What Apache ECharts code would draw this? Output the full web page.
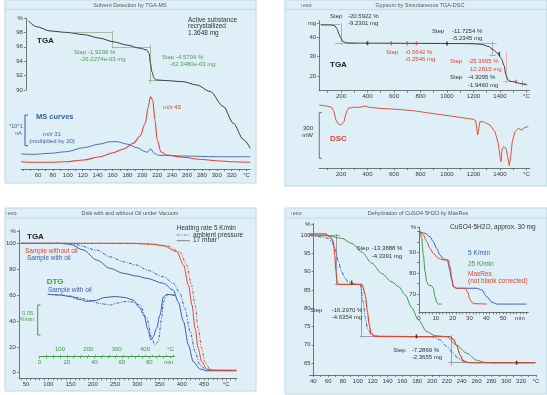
<!DOCTYPE html>
<html>
<head>
<meta charset="utf-8">
<title>Thermal analysis examples</title>
<script src="https://cdn.jsdelivr.net/npm/echarts@6.0.0/dist/echarts.min.js"></script>
<style>
html,body{margin:0;padding:0;background:#ffffff;}
#chart{width:547px;height:395px;}
</style>
</head>
<body>
<div id="chart"></div>
<script>
// ================= DATA =================
// ---- Panel 1: Solvent detection by TGA-MS ----
const p1TgaTemp = [47, 58, 76, 98, 121, 143, 161, 179, 197, 206, 209, 211, 213, 216, 219, 233, 255, 273, 291, 309, 322, 336, 345];
const p1TgaMass = [99.6, 98.8, 98.2, 98.0, 97.7, 97.2, 96.7, 96.25, 95.8, 95.55, 95.1, 93.7, 92.5, 91.6, 91.4, 91.3, 91.15, 90.7, 89.8, 87.7, 85.4, 83.1, 81.9];
const p1Mz45Temp = [37, 54, 76, 98, 121, 143, 161, 175, 188, 197, 204, 208, 211, 214, 217, 220, 225, 233, 255, 277, 300, 322, 345];
const p1Mz45Ion = [7.3, 6.7, 6.7, 7.3, 9, 12.3, 16.3, 20, 25.7, 33, 45.7, 62.3, 72.3, 69, 49, 29, 17.3, 14, 11.7, 9.7, 8.3, 7.3, 6.7];
const p1Mz31Temp = [37, 54, 76, 98, 121, 143, 157, 166, 179, 193, 204, 207, 211, 216, 222, 255, 300, 345];
const p1Mz31Ion = [15, 14.7, 15.7, 17.3, 21.3, 25, 27.3, 27.3, 25, 21.3, 17.3, 16.7, 20.3, 15.7, 13.7, 13, 12.3, 12.3];
const p1StepSegments = [
  [[107, 97.96], [159, 97.96]], [[159, 98.2], [159, 95.8]], [[159, 96.0], [211, 96.0]],
  [[211, 96.25], [211, 90.9]], [[208, 91.3], [226, 91.3]]
];
const p1TempLabels = [60, 80, 100, 120, 140, 160, 180, 200, 220, 240, 260, 280, 300, 320, 340];
const p1MassLabels = [90, 92, 94, 96, 98, 100];

// ---- Panel 2: Gypsum by simultaneous TGA-DSC ----
const p2TgaTemp = [50, 120, 150, 170, 185, 200, 215, 240, 300, 500, 800, 1100, 1200, 1260, 1310, 1350, 1385, 1410, 1430, 1445, 1460, 1475, 1510, 1560, 1605];
const p2TgaMass = [46.3, 46.3, 46.0, 44.5, 41.5, 39.4, 37.8, 37.1, 36.95, 36.9, 36.8, 36.7, 36.6, 36.3, 35.3, 33.5, 31.5, 29.0, 25.5, 20.5, 18.0, 17.3, 16.9, 16.0, 15.3];
const p2DscTemp = [36, 92, 130, 147, 162, 180, 200, 223, 238, 255, 293, 343, 381, 394, 414, 494, 620, 746, 847, 972, 1098, 1198, 1217, 1224, 1232, 1240, 1249, 1274, 1325, 1362, 1387, 1400, 1408, 1415, 1425, 1445, 1458, 1470, 1481, 1493, 1513, 1538, 1564, 1589, 1614];
const p2DscFlow = [63.3, 62.3, 61, 56.6, 48.3, 44.3, 43.3, 46.6, 55, 60, 61, 61, 62.3, 63.3, 61, 60, 59, 57.6, 55.6, 53.3, 51, 49, 47.6, 40, 33.3, 40, 46.6, 46.6, 43.3, 36.6, 25, 11.6, 6.6, 18.3, 21.6, 20, 11.6, 2.6, 11.6, 27, 36.6, 40, 38.3, 41, 41.6];
const p2StepSegments = [
  [[35, 46.6], [193, 46.6]], [[200, 47.2], [200, 36.0]], [[155, 36.85], [318, 36.85]],
  [[1150, 36.85], [1375, 36.85]], [[1345, 37.7], [1345, 30.8]], [[1320, 30.8], [1370, 30.8]],
  [[1545, 16.0], [1595, 16.0]], [[1570, 17.5], [1570, 14.5]]
];
const p2StepSegmentsRed = [[[1450, 32.5], [1450, 16.2]], [[1424, 17.1], [1530, 17.1]]];
const p2MarksDark = [[400, 36.9], [1000, 36.75], [1395, 31.4]];
const p2MarksRed = [[580, 36.88], [700, 36.85], [770, 36.82], [1520, 17.0]];
const p2TempLabels = [200, 400, 600, 800, 1000, 1200, 1400, 1600];
const p2MassLabels = [20, 30, 40, 47.2];

// ---- Panel 3: Disk with and without oil under vacuum ----
const p3WithOil17Temp = [38, 126, 149, 179, 209, 239, 269, 299, 321, 359, 381, 392, 404, 415, 426, 441, 456, 523];
const p3WithOil17Mass = [100, 100, 99.2, 94.8, 87.1, 80.7, 76.8, 74.7, 73.0, 69.1, 63.9, 54.9, 39.4, 21.4, 8.5, 2.9, 1.5, 1.5];
const p3WithOilAmbTemp = [38, 149, 164, 209, 239, 269, 299, 321, 359, 381, 396, 407, 419, 430, 441, 456, 523];
const p3WithOilAmbMass = [100, 100, 98.7, 94.8, 89.6, 85.8, 83.2, 79.4, 74.2, 69.1, 61.4, 49.8, 31.7, 16.2, 6.0, 2.1, 1.5];
const p3NoOil17Temp = [38, 284, 330, 359, 389, 404, 415, 423, 430, 437, 445, 456, 467, 523];
const p3NoOil17Mass = [100, 100, 99.4, 98.1, 93.5, 83.3, 67.8, 52.3, 34.3, 18.9, 8.5, 2.9, 1.9, 1.9];
const p3NoOilAmbTemp = [38, 290, 335, 365, 396, 411, 422, 430, 437, 445, 452, 463, 474, 523];
const p3NoOilAmbMass = [100, 100, 99.4, 98.3, 93.5, 83.3, 67.8, 52.3, 34.3, 18.9, 8.5, 2.9, 1.9, 1.9];
const p3Dtg17Temp = [57, 100, 135, 171, 195, 224, 259, 294, 329, 358, 382, 397, 411, 421, 429, 441, 453, 465, 477, 506];
const p3Dtg17Rate = [62.4, 61.7, 60.2, 57.2, 55.2, 56.2, 59.2, 60.2, 59.2, 56.7, 48.7, 40.7, 26.7, 16.7, 20, 28.4, 41.7, 59.7, 62.4, 61.2];
const p3DtgAmbTemp = [57, 100, 135, 171, 206, 241, 277, 305, 329, 358, 382, 406, 424, 435, 447, 459, 465, 477, 488, 506];
const p3DtgAmbRate = [62.4, 61.7, 60.7, 58.7, 56.2, 53.2, 51.7, 53.7, 55.2, 54.7, 51.7, 38.7, 18.7, 11.7, 15, 38.7, 54.7, 61.7, 62.2, 61.2];
const p3TempLabels = [50, 100, 150, 200, 250, 300, 350, 400, 450, 500];
const p3MassLabels = [0, 20, 40, 60, 80, 100, 109];
const p3DtgTempLabels = [100, 200, 300, 400, 490];
const p3DtgTimeLabels = [0, 20, 40, 60, 80, 94];

// ---- Panel 4: Dehydration of CuSO4·5H2O by MaxRes ----
const p4Rate5Temp = [35, 51, 60, 65, 69, 74, 78, 83, 87, 96, 103, 107, 110, 113, 118, 125, 132, 200, 210, 220, 228, 236, 245, 255, 339];
const p4Rate5Mass = [99.9, 99.5, 99.1, 98.2, 96.4, 92.7, 90, 88.2, 87.1, 86.6, 86.5, 82, 77.5, 74.5, 72.8, 72.4, 72.3, 72.2, 71.4, 69.6, 67.8, 66.2, 65.3, 65.1, 65.1];
const p4MaxResTemp = [35, 56, 62, 67, 69, 70.5, 72, 74, 87, 103, 106, 110, 113, 115.5, 118, 123, 224, 229, 233, 238, 242, 249, 339];
const p4MaxResMass = [100.3, 100.3, 99.6, 98.3, 94.5, 90, 87.2, 86.5, 86.5, 86.5, 86.3, 83.6, 79, 75.4, 73.1, 72.3, 72.2, 71.5, 69.9, 67.2, 65.6, 65.1, 65.1];
const p4Rate25Temp = [35, 60, 78, 92, 105, 119, 132, 146, 155, 164, 173, 181.5, 193, 204, 220, 233, 247, 260, 271, 280, 339];
const p4Rate25Mass = [100.1, 99.8, 99.1, 97.7, 95.4, 92.3, 89.5, 87.2, 85.9, 83.6, 80, 76.8, 73.6, 72.5, 72.2, 69.9, 67.7, 65.8, 65.2, 65.1, 65.1];
const p4InsetRate5Time = [0.6, 3.6, 6.5, 8.5, 10.5, 12.5, 14.5, 16.9, 18, 19.5, 20.4, 22.4, 34.3, 37.3, 40.3, 43.3, 46.3, 64];
const p4InsetRate5Mass = [99.9, 99.1, 97.5, 95.1, 91.9, 88.7, 86.8, 86.3, 82.3, 76.7, 73.5, 72.7, 72.7, 71.9, 68.7, 66, 65.1, 65.1];
const p4InsetMaxResTime = [0.6, 2.6, 4.6, 6.5, 8.5, 11.5, 14.5, 17.4, 18.5, 19.5, 20.4, 22.4, 27.4, 28.8, 30.4, 32.3, 40.3];
const p4InsetMaxResMass = [100, 98.3, 95.1, 91.9, 89.5, 87.1, 86.3, 86.3, 83.1, 77.5, 73.5, 72.7, 72.7, 71.1, 67.1, 65.3, 65.1];
const p4InsetRate25Time = [0.6, 1.6, 2.6, 3.6, 4.6, 5.5, 7.5, 8.5, 9.5, 10.5, 11.5, 13.5];
const p4InsetRate25Mass = [100, 96.7, 88.7, 80.7, 75.9, 74.3, 73.9, 72.7, 68.7, 66, 65.1, 65.1];
const p4StepSegments = [
  [[35, 100], [76, 100]], [[71, 100.3], [71, 86.2]], [[69, 86.5], [105, 86.5]],
  [[104.5, 86.9], [104.5, 72.0]], [[103, 72.3], [225, 72.3]],
  [[226, 72.6], [226, 64.3]], [[222, 65.1], [340, 65.1]]
];
const p4Marks = [[91.7, 87.0], [179, 72.3], [314, 65.1]];
const p4TempLabels = [40, 60, 80, 100, 120, 140, 160, 180, 200, 220, 240, 260, 280, 300, 320, 340];
const p4MassLabels = [65, 70, 75, 80, 85, 90, 95, 100, 103];
const p4InsetTimeLabels = [0, 10, 20, 30, 40, 50, 60];
const p4InsetMassLabels = [70, 80, 90, 102];

// ================= STYLE / HELPERS =================
const FONT = 'Liberation Sans, Arial, sans-serif';
const C_AX = '#555555', C_LBL = '#3a3a3a';
const RED = '#e2452f', BLUE = '#3b60ae', GREEN = '#3f9b45', DARK = '#3a3a3a';
const BG = '#dfeff7', BG_EDGE = '#bcd6e4';

const zip = (a, b) => a.map((v, i) => [v, b[i]]);
const steps = (a, b, s) => { const r = []; for (let v = a; v <= b + 1e-9; v += s) r.push(+v.toFixed(3)); return r; };

function axis(gridIndex, min, max, ticks, labels, fmt, extra) {
  const e = extra || {};
  return Object.assign({
    gridIndex, type: 'value', min, max, splitLine: { show: false },
    axisLine: { show: true, onZero: false, lineStyle: { color: e.color || C_AX, width: 0.8 } },
    axisTick: { show: true, length: 2, inside: !!e.tickInside, customValues: ticks, lineStyle: { color: e.color || C_AX, width: 0.7 } },
    axisLabel: { show: true, customValues: labels, formatter: fmt, fontSize: 6, color: e.labelColor || C_LBL, fontFamily: FONT, margin: e.margin || 3, inside: !!e.labelInside }
  }, e.more || {});
}
const hidden = (gridIndex, min, max) => ({ gridIndex, type: 'value', min, max, show: false, splitLine: { show: false } });

function curve(xi, yi, data, color, width, dash, extra) {
  return Object.assign({
    type: 'line', xAxisIndex: xi, yAxisIndex: yi, data, symbol: 'none', smooth: 0.3, smoothMonotone: 'x',
    clip: false, silent: true, lineStyle: { color, width: width || 1, type: dash || 'solid' }
  }, extra || {});
}
function segs(xi, yi, list, color) {
  return { type: 'lines', coordinateSystem: 'cartesian2d', xAxisIndex: xi, yAxisIndex: yi, silent: true,
    data: list.map(c => ({ coords: c })), lineStyle: { color, width: 0.8, opacity: 1 }, z: 3 };
}
function marks(xi, yi, data, color) {
  return { type: 'scatter', xAxisIndex: xi, yAxisIndex: yi, data, symbol: 'rect', symbolSize: [1.6, 4], silent: true,
    itemStyle: { color }, z: 4 };
}

const G = [];
function rect(x, y, w, h) { G.push({ type: 'rect', z: -10, silent: true, shape: { x, y, width: w, height: h }, style: { fill: BG, stroke: BG_EDGE, lineWidth: 1 } }); }
function line(x1, y1, x2, y2, color, w, dash) { G.push({ type: 'line', z: 40, silent: true, shape: { x1, y1, x2, y2 }, style: { stroke: color, lineWidth: w || 0.8, lineDash: dash || null } }); }
function txt(s, x, y, o) {
  o = o || {};
  G.push({ type: 'text', z: 50, silent: true, x, y, style: { text: s, fill: o.c || '#333', fontSize: o.s || 6, fontFamily: FONT,
    fontWeight: o.b ? 'bold' : 'normal', textAlign: o.a || 'left', textVerticalAlign: 'middle' } });
}

// ---- panel frames ----
rect(5, 0, 251, 183); rect(285, 0, 262, 186); rect(5, 208, 251, 183); rect(285, 208, 262, 186);
line(5, 9.5, 256, 9.5, BG_EDGE, 0.8); line(285, 9.5, 547, 9.5, BG_EDGE, 0.8);
line(5, 218, 256, 218, BG_EDGE, 0.8); line(285, 218, 547, 218, BG_EDGE, 0.8);

// ---- panel 1 texts ----
txt('Solvent Detection by TGA-MS', 130, 5.5, { a: 'center', s: 5.5, c: '#555' });
txt('TGA', 37, 40.7, { b: true, s: 8, c: '#222' });
txt('Active substance', 188, 20, { s: 6.5 });
txt('recrystallized', 188, 26.7, { s: 6.5 });
txt('1.3648 mg', 188, 33, { s: 6.5 });
txt('Step -1.9296 %', 74, 52, { c: '#4f9a4f' });
txt('-26.2274e-03 mg', 80, 59.5, { c: '#4f9a4f' });
txt('Step -4.5704 %', 162, 57, { c: '#4f9a4f' });
txt('-62.3480e-03 mg', 170, 64, { c: '#4f9a4f' });
txt('MS curves', 36, 116.7, { b: true, s: 7.5, c: '#2f5fa8' });
txt('*10^1', 23, 126.7, { a: 'right', s: 5.5, c: '#2f5fa8' });
txt('nA', 22, 133.3, { a: 'right', s: 5.5, c: '#2f5fa8' });
txt('m/z 31', 52, 134, { a: 'center', c: '#3d5fa0' });
txt('(multiplied by 20)', 52, 141.5, { a: 'center', c: '#3d5fa0' });
txt('m/z 45', 163, 107.7, { c: RED });
line(25, 115, 25, 145.7, '#2f5fa8', 1); line(25, 115, 28, 115, '#2f5fa8', 1); line(25, 145.7, 28, 145.7, '#2f5fa8', 1);

// ---- panel 2 texts ----
txt('↑exo', 300, 5.5, { s: 5.5, c: '#555' });
txt('Gypsum by Simultaneous TGA-DSC', 420, 5.5, { a: 'center', s: 5.5, c: '#555' });
txt('Step', 330, 16.7); txt('-20.5922 %', 348, 16.7); txt('-9.2301 mg', 348, 23.3);
txt('Step', 386, 52.3, { c: RED }); txt('-0.5642 %', 405, 52.3, { c: RED }); txt('-0.2546 mg', 405, 59, { c: RED });
txt('Step', 432, 31.7); txt('-11.7254 %', 452, 31.7); txt('-5.2345 mg', 452, 38.3);
txt('Step', 450, 61.7, { c: RED }); txt('-25.3695 %', 468, 61.7, { c: RED }); txt('12.2815 mg', 470, 69, { c: RED });
txt('Step', 450, 77.3); txt('-4.3095 %', 468, 77.3); txt('-1.9460 mg', 468, 85);
txt('TGA', 330, 65, { b: true, s: 8, c: '#222' });
txt('DSC', 330, 138.3, { b: true, s: 8, c: RED });
txt('300', 313, 128.3, { a: 'right' }); txt('mW', 313, 135, { a: 'right' });
line(319.3, 112.7, 319.3, 158.3, C_AX, 0.8); line(319.3, 112.7, 322, 112.7, C_AX, 0.8); line(319.3, 158.3, 322, 158.3, C_AX, 0.8);

// ---- panel 3 texts ----
txt('↑exo', 5, 213.5, { s: 5.5, c: '#555' });
txt('Disk with and without Oil under Vacuum', 130, 213.5, { a: 'center', s: 5.5, c: '#555' });
txt('TGA', 27, 236.7, { b: true, s: 8, c: '#222' });
txt('Sample without oil', 25, 251.7, { c: RED, s: 6.5 });
txt('Sample with oil', 27, 258.3, { c: BLUE, s: 6.5 });
txt('DTG', 46.7, 281.7, { b: true, s: 8, c: GREEN });
txt('Sample with oil', 48, 290, { c: BLUE, s: 6.5 });
txt('Heating rate 5 K/min', 176.7, 228.3, { s: 6.5 });
line(176.7, 235, 190, 235, '#666', 0.8, [3, 1.5, 1, 1.5]); txt('ambient pressure', 193, 235, { s: 6.5 });
line(176.7, 240.7, 190, 240.7, '#666', 0.8); txt('17 mbar', 193, 240.7, { s: 6.5 });
txt('0.05', 33, 313.3, { a: 'right', c: GREEN, s: 5.5 }); txt('%/min', 34, 320, { a: 'right', c: GREEN, s: 5 });
line(37.7, 305, 37.7, 335, GREEN, 1); line(37.7, 305, 40.5, 305, GREEN, 1); line(37.7, 335, 40.5, 335, GREEN, 1);

// ---- panel 4 texts ----
txt('↑exo', 290, 213.5, { s: 5.5, c: '#555' });
txt('Dehydration of CuSO4·5H2O by MaxRes', 418, 213.5, { a: 'center', s: 5.5, c: '#555' });
txt('CuSO4·5H2O, approx. 30 mg', 450, 227.3, { s: 6.5 });
txt('Step', 356.7, 248.3); txt('-13.3888 %', 371.7, 248.3); txt('-4.3391 mg', 371.7, 256);
txt('Step', 310, 310); txt('-16.2970 %', 331.7, 310); txt('-4.6354 mg', 331.7, 317.3);
txt('Step', 393.3, 350); txt('-7.2869 %', 411.7, 350); txt('-2.3655 mg', 411.7, 357.3);
txt('5 K/min', 468, 253, { c: BLUE, s: 6.5 });
txt('25 K/min', 468, 264, { c: GREEN, s: 6.5 });
txt('MaxRes', 468, 274, { c: RED, s: 6.5 });
txt('(not blank corrected)', 468, 281, { c: RED, s: 6.5 });

// ================= OPTION =================
const gridBase = { show: false, containLabel: false, outerBoundsMode: 'none' };
const option = {
  animation: false,
  backgroundColor: '#ffffff',
  graphic: { elements: G },
  grid: [
    Object.assign({ left: 20.9, top: 18, width: 229.4, height: 72 }, gridBase),
    Object.assign({ left: 20.9, top: 95, width: 229.4, height: 74 }, gridBase),
    Object.assign({ left: 319.1, top: 20.7, width: 210.7, height: 70 }, gridBase),
    Object.assign({ left: 319.1, top: 95, width: 210.7, height: 73.3 }, gridBase),
    Object.assign({ left: 18.95, top: 230, width: 217.8, height: 148.3 }, gridBase),
    Object.assign({ left: 39.3, top: 280, width: 135.4, height: 76.7 }, gridBase),
    Object.assign({ left: 309.6, top: 223.3, width: 226.3, height: 151.7 }, gridBase),
    Object.assign({ left: 419, top: 227, width: 109.3, height: 85.3 }, gridBase)
  ],
  xAxis: [
    hidden(0, 37, 345),
    axis(1, 37, 345, steps(40, 340, 10), p1TempLabels, v => v === 340 ? '°C' : String(v), { more: { position: 'bottom' } }),
    axis(2, 35, 1625, steps(100, 1600, 100), p2TempLabels, v => v === 1600 ? '°C' : String(v), { more: { position: 'bottom' } }),
    axis(3, 35, 1625, steps(100, 1600, 100), p2TempLabels, v => v === 1600 ? '°C' : String(v), { more: { position: 'bottom' } }),
    axis(4, 34, 523.7, steps(40, 520, 10), p3TempLabels, v => v === 500 ? '°C' : String(v), { more: { position: 'bottom' } }),
    axis(5, 27, 505, steps(50, 500, 25), p3DtgTempLabels, v => v === 490 ? '°C' : String(v),
      { color: GREEN, labelColor: GREEN, tickInside: true, labelInside: true, margin: 4, more: { position: 'bottom' } }),
    axis(5, 0, 98.5, steps(0, 95, 5), p3DtgTimeLabels, v => v === 94 ? 'min' : String(v),
      { color: GREEN, labelColor: GREEN, margin: 3, more: { position: 'bottom', offset: 0 } }),
    axis(6, 35, 340, steps(40, 340, 10), p4TempLabels, v => v === 340 ? '°C' : String(v), { more: { position: 'bottom' } }),
    axis(7, 0, 65, steps(0, 64, 2), p4InsetTimeLabels, v => v === 60 ? 'min' : String(v), { more: { position: 'bottom' } })
  ],
  yAxis: [
    axis(0, 90, 100, p1MassLabels, p1MassLabels, v => v === 100 ? '%' : String(v), { more: { offset: -5, position: 'left' } }),
    hidden(1, 0, 74),
    axis(2, 12.4, 48.5, p2MassLabels, p2MassLabels, v => v > 45 ? 'mg' : String(v), { more: { position: 'left' } }),
    hidden(3, 0, 73.3),
    axis(4, -4.3, 110.3, p3MassLabels, p3MassLabels, v => v === 109 ? '%' : String(v), { more: { position: 'left' } }),
    hidden(5, 0, 76.7),
    axis(6, 61.75, 103.2, p4MassLabels, p4MassLabels, v => v === 103 ? '%' : String(v), { more: { offset: -4, position: 'left' } }),
    axis(7, 61.15, 102.16, steps(65, 100, 5).concat([102]), p4InsetMassLabels, v => v === 102 ? '%' : String(v), { more: { position: 'left' } })
  ],
  series: [
    // panel 1
    curve(0, 0, zip(p1TgaTemp, p1TgaMass), DARK, 1),
    curve(1, 1, zip(p1Mz31Temp, p1Mz31Ion), '#4b6fb8', 1),
    curve(1, 1, zip(p1Mz45Temp, p1Mz45Ion), RED, 1.1),
    segs(0, 0, p1StepSegments, '#8db38d'),
    // panel 2
    curve(2, 2, zip(p2TgaTemp, p2TgaMass), DARK, 1),
    curve(3, 3, zip(p2DscTemp, p2DscFlow), '#e0553a', 1, 'solid', { smooth: false }),
    segs(2, 2, p2StepSegments, '#a0a0a0'),
    segs(2, 2, p2StepSegmentsRed, '#e9a595'),
    marks(2, 2, p2MarksDark, '#222'),
    marks(2, 2, p2MarksRed, RED),
    // panel 3
    curve(4, 4, zip(p3WithOilAmbTemp, p3WithOilAmbMass), BLUE, 1, [3, 1.5, 1, 1.5]),
    curve(4, 4, zip(p3WithOil17Temp, p3WithOil17Mass), BLUE, 1),
    curve(4, 4, zip(p3NoOilAmbTemp, p3NoOilAmbMass), RED, 1, [3, 1.5, 1, 1.5]),
    curve(4, 4, zip(p3NoOil17Temp, p3NoOil17Mass), RED, 1),
    curve(5, 5, zip(p3DtgAmbTemp, p3DtgAmbRate), BLUE, 1, [3, 1.5, 1, 1.5]),
    curve(5, 5, zip(p3Dtg17Temp, p3Dtg17Rate), BLUE, 1),
    // panel 4
    curve(7, 6, zip(p4Rate25Temp, p4Rate25Mass), GREEN, 1),
    curve(7, 6, zip(p4Rate5Temp, p4Rate5Mass), BLUE, 1, [4, 1.5, 1, 1.5]),
    curve(7, 6, zip(p4MaxResTemp, p4MaxResMass), RED, 1.2),
    segs(7, 6, p4StepSegments, '#8c8c8c'),
    marks(7, 6, p4Marks, '#222'),
    curve(8, 7, zip(p4InsetRate5Time, p4InsetRate5Mass), BLUE, 1),
    curve(8, 7, zip(p4InsetRate25Time, p4InsetRate25Mass), GREEN, 1),
    curve(8, 7, zip(p4InsetMaxResTime, p4InsetMaxResMass), RED, 1)
  ]
};

const chart = echarts.init(document.getElementById('chart'), null, { renderer: 'canvas' });
chart.setOption(option);
</script>
</body>
</html>
